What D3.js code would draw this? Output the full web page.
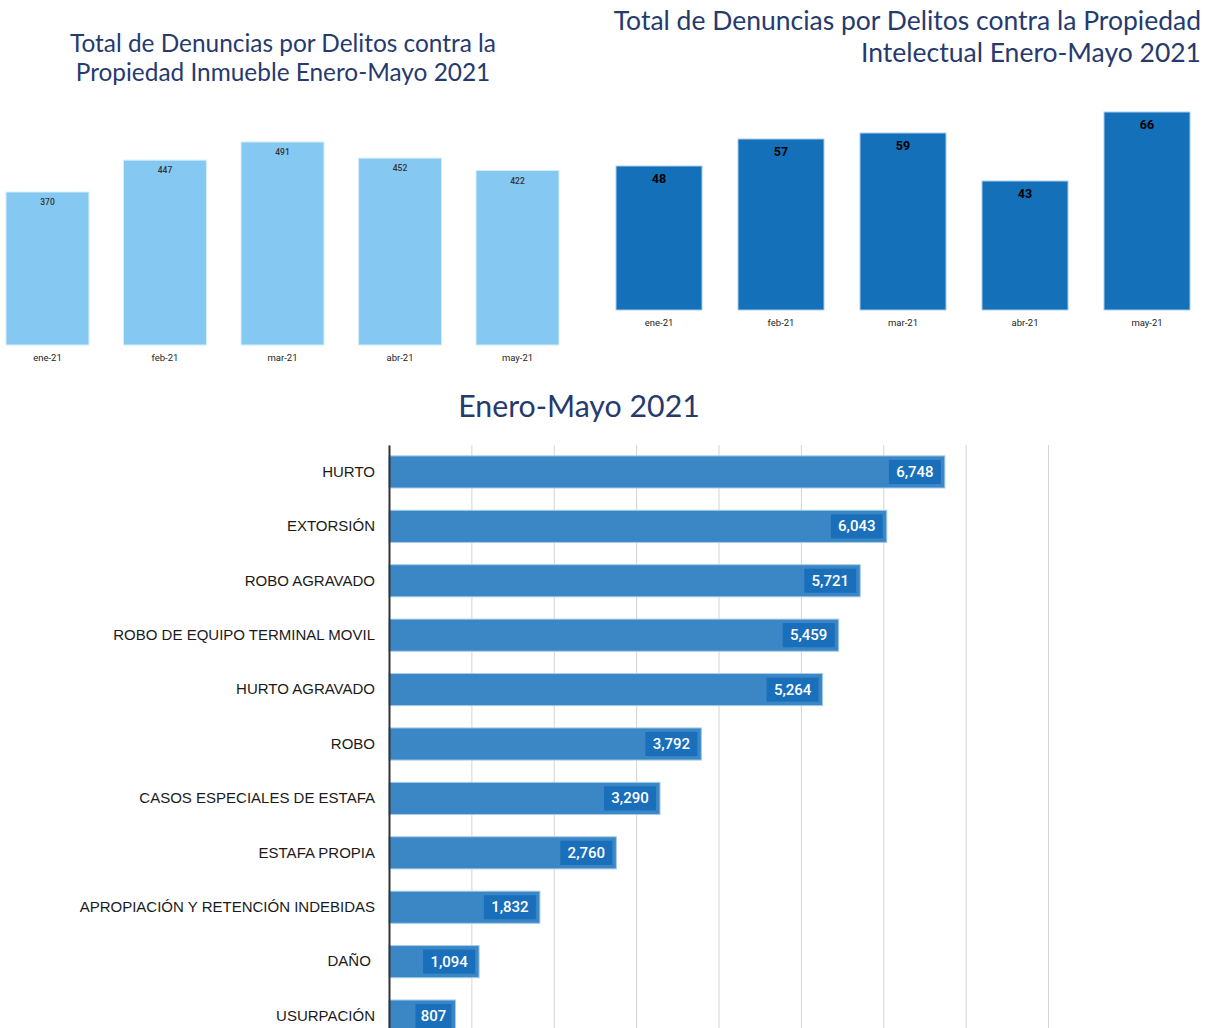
<!DOCTYPE html>
<html>
<head>
<meta charset="utf-8">
<script src="https://cdn.jsdelivr.net/npm/d3@7"></script>
<style>
  body { margin: 0; background: #fff; }
  svg { display: block; }
  .title { font-family: Lato, "Open Sans", sans-serif; fill: #263a6e; }
</style>
</head>
<body>
<svg id="chart" width="1213" height="1028"></svg>
<script>
// months shared by both top charts
const months = ["ene-21", "feb-21", "mar-21", "abr-21", "may-21"];
const inmuebleValues = [370, 447, 491, 452, 422];
const intelectualValues = [48, 57, 59, 43, 66];

// bottom chart
const delitos = ["HURTO", "EXTORSIÓN", "ROBO AGRAVADO", "ROBO DE EQUIPO TERMINAL MOVIL",
  "HURTO AGRAVADO", "ROBO", "CASOS ESPECIALES DE ESTAFA", "ESTAFA PROPIA",
  "APROPIACIÓN Y RETENCIÓN INDEBIDAS", "DAÑO\u00a0", "USURPACIÓN"];
const delitoValues = [6748, 6043, 5721, 5459, 5264, 3792, 3290, 2760, 1832, 1094, 807];
const xTicks = [0, 1000, 2000, 3000, 4000, 5000, 6000, 7000, 8000];

const svg = d3.select("#chart");
const fmt = d3.format(",");

/* TOP LEFT - Propiedad Inmueble */
const x1 = d3.scaleBand().domain(months).range([6, 559]).paddingInner(0.294).paddingOuter(0);
const y1 = d3.scaleLinear().domain([0, 500]).range([345, 138.25]);

svg.append("text").attr("class", "title")
  .attr("x", 283).attr("y", 52).attr("text-anchor", "middle")
  .style("font-size", "24.4px").text("Total de Denuncias por Delitos contra la");
svg.append("text").attr("class", "title")
  .attr("x", 283).attr("y", 81).attr("text-anchor", "middle")
  .style("font-size", "24.4px").text("Propiedad Inmueble Enero-Mayo 2021");

svg.append("g").selectAll("rect")
  .data(inmuebleValues)
  .enter().append("rect")
  .attr("x", (d, i) => x1(months[i]))
  .attr("y", d => y1(d))
  .attr("width", x1.bandwidth())
  .attr("height", d => y1(0) - y1(d))
  .attr("fill", "#85c9f2")
  .attr("stroke", "#d6eefc")
  .attr("stroke-width", 1);

svg.append("g").selectAll("text")
  .data(inmuebleValues)
  .enter().append("text")
  .attr("x", (d, i) => x1(months[i]) + x1.bandwidth() / 2)
  .attr("y", d => y1(d) + 13)
  .attr("text-anchor", "middle")
  .style("font-family", "Roboto, sans-serif")
  .style("font-size", "8.5px")
  .style("font-weight", "500")
  .style("fill", "#333")
  .text(d => d);

const ax1 = svg.append("g")
  .attr("transform", "translate(0,345)")
  .call(d3.axisBottom(x1).tickSize(0).tickPadding(9));
ax1.select(".domain").remove();
ax1.selectAll("text").style("font-family", "Roboto, sans-serif").style("font-size", "9.5px").style("fill", "#222");

/* TOP RIGHT - Propiedad Intelectual */
const x2 = d3.scaleBand().domain(months).range([616, 1190]).paddingInner(0.295).paddingOuter(0);
const y2 = d3.scaleLinear().domain([0, 70]).range([310, 100]);

svg.append("text").attr("class", "title")
  .attr("x", 1201).attr("y", 30).attr("text-anchor", "end")
  .style("font-size", "26.5px").text("Total de Denuncias por Delitos contra la Propiedad");
svg.append("text").attr("class", "title")
  .attr("x", 1201).attr("y", 62).attr("text-anchor", "end")
  .style("font-size", "26.5px").text("Intelectual Enero-Mayo 2021");

svg.append("g").selectAll("rect")
  .data(intelectualValues)
  .enter().append("rect")
  .attr("x", (d, i) => x2(months[i]))
  .attr("y", d => y2(d))
  .attr("width", x2.bandwidth())
  .attr("height", d => y2(0) - y2(d))
  .attr("fill", "#1570ba")
  .attr("stroke", "#a9cdee")
  .attr("stroke-width", 1);

svg.append("g").selectAll("text")
  .data(intelectualValues)
  .enter().append("text")
  .attr("x", (d, i) => x2(months[i]) + x2.bandwidth() / 2)
  .attr("y", d => y2(d) + 17)
  .attr("text-anchor", "middle")
  .style("font-family", "Roboto, sans-serif")
  .style("font-size", "12.5px")
  .style("font-weight", "bold")
  .style("fill", "#000")
  .text(d => d);

const ax2 = svg.append("g")
  .attr("transform", "translate(0,310)")
  .call(d3.axisBottom(x2).tickSize(0).tickPadding(9));
ax2.select(".domain").remove();
ax2.selectAll("text").style("font-family", "Roboto, sans-serif").style("font-size", "9.5px").style("fill", "#222");

/* BOTTOM - Enero-Mayo 2021 */
svg.append("text").attr("class", "title")
  .attr("x", 579).attr("y", 417).attr("text-anchor", "middle")
  .style("font-size", "30.3px").text("Enero-Mayo 2021");

const x3 = d3.scaleLinear().domain([0, 8000]).range([389, 1048]);
const y3 = d3.scaleBand().domain(delitos).range([445, 1043]).paddingInner(0.41).paddingOuter(0.2);

// grid lines
const grid = svg.append("g")
  .attr("transform", "translate(0,445)")
  .call(d3.axisBottom(x3).tickValues(xTicks).tickSize(600).tickFormat(""));
grid.select(".domain").remove();
grid.selectAll("line").attr("stroke", "#d4d4d4").attr("stroke-width", 1);

svg.append("g").selectAll("rect")
  .data(delitoValues)
  .enter().append("rect")
  .attr("x", x3(0))
  .attr("y", (d, i) => y3(delitos[i]))
  .attr("width", d => x3(d) - x3(0))
  .attr("height", y3.bandwidth())
  .attr("fill", "#3b87c6")
  .attr("stroke", "#a6cbeb")
  .attr("stroke-width", 1);

// value boxes
const boxes = svg.append("g").selectAll("g")
  .data(delitoValues)
  .enter().append("g");

boxes.append("rect")
  .attr("x", d => x3(d) - 4 - (fmt(d).length * 8 + 12))
  .attr("y", (d, i) => y3(delitos[i]) + 4)
  .attr("width", d => fmt(d).length * 8 + 12)
  .attr("height", y3.bandwidth() - 8)
  .attr("fill", "#1a6fbb");

boxes.append("text")
  .attr("x", d => x3(d) - 4 - (fmt(d).length * 8 + 12) / 2)
  .attr("y", (d, i) => y3(delitos[i]) + y3.bandwidth() / 2 + 5)
  .attr("text-anchor", "middle")
  .style("font-family", "Roboto, sans-serif")
  .style("font-size", "15px")
  .style("font-weight", "500")
  .style("fill", "#fff")
  .text(d => fmt(d));

const ay3 = svg.append("g")
  .attr("transform", "translate(389,0)")
  .call(d3.axisLeft(y3).tickSize(0).tickPadding(14));
ay3.select(".domain").attr("stroke", "#333").attr("stroke-width", 2);
ay3.selectAll("text")
  .style("font-family", "'Liberation Sans', Arial, sans-serif")
  .style("font-size", "15px")
  .style("fill", "#1a1a1a");
</script>
</body>
</html>
